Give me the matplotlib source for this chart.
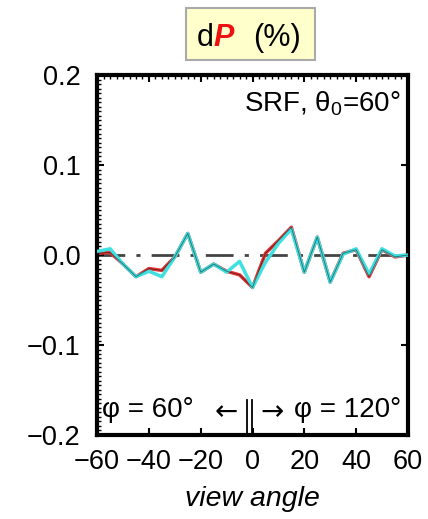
import numpy as np
import matplotlib.pyplot as plt
from matplotlib.patches import Rectangle
from matplotlib.ticker import MultipleLocator

plt.rcParams['font.family'] = ['Liberation Sans', 'DejaVu Sans']

# view angle grid and dP values
sudut = [-60, -55, -50, -45, -40, -35, -30, -25, -20, -15, -10, -5, 0,
         5, 10, 15, 20, 25, 30, 35, 40, 45, 50, 55, 60]
dp_merah = [0.002, 0.003, -0.010, -0.024, -0.015, -0.017, -0.002, 0.024, -0.019, -0.010, -0.018, -0.022, -0.036,
            0.002, 0.016, 0.031, -0.019, 0.020, -0.030, 0.002, 0.006, -0.024, 0.006, -0.002, 0.000]
dp_cyan = [0.004, 0.007, -0.010, -0.024, -0.018, -0.024, -0.002, 0.024, -0.019, -0.010, -0.019, -0.007, -0.036,
           -0.008, 0.013, 0.029, -0.019, 0.020, -0.030, 0.001, 0.007, -0.021, 0.007, -0.001, 0.000]
dp_hitam = dp_merah

fig = plt.figure(figsize=(4.28, 5.19), dpi=100)
ax = fig.add_axes([0.227, 0.162, 0.726, 0.693])

ax.axhline(0, color='#444444', lw=2, linestyle=(0, (10, 4, 1.5, 4)), zorder=1)
ax.plot(sudut, dp_merah, color='#e03535', lw=2.5, zorder=2)
ax.plot(sudut, dp_cyan, color='#40e0e0', lw=2.5, zorder=3)
ax.plot(sudut, dp_hitam, color='black', lw=0.7, alpha=0.45, zorder=4)

ax.set_xlim(-60, 60)
ax.set_ylim(-0.2, 0.2)
ax.set_xticks([-60, -40, -20, 0, 20, 40, 60])
ax.set_xticklabels(['\u221260', '\u221240', '\u221220', '0', '20', '40', '60'])
ax.set_yticks([-0.2, -0.1, 0.0, 0.1, 0.2])
ax.set_yticklabels(['\u22120.2', '\u22120.1', '0.0', '0.1', '0.2'])
ax.xaxis.set_minor_locator(MultipleLocator(2.5))
ax.yaxis.set_minor_locator(MultipleLocator(0.005))
ax.tick_params(which='major', direction='in', length=5, width=1.5,
               top=True, right=True, labelsize=19.5)
ax.tick_params(axis='x', which='major', pad=10)
ax.tick_params(axis='y', which='major', pad=12)
ax.tick_params(which='minor', direction='in', length=3, width=1,
               top=True, right=False, bottom=False)
for s in ax.spines.values():
    s.set_linewidth(3)

ax.set_xlabel('view angle', fontsize=20.5, style='italic', labelpad=8)

ax.text(0.977, 0.92, r'SRF, $\mathregular{\theta_0}$=60°', transform=ax.transAxes,
        ha='right', va='center', fontsize=20)
ax.text(0.016, 0.07, 'φ = 60°', transform=ax.transAxes, ha='left', va='center', fontsize=20)
ax.text(0.977, 0.07, 'φ = 120°', transform=ax.transAxes, ha='right', va='center', fontsize=20)
ax.text(-10, -0.175, '←', ha='center', va='center', fontsize=20, family='DejaVu Sans')
ax.text(7.5, -0.175, '→', ha='center', va='center', fontsize=20, family='DejaVu Sans')
ax.axvline(-2.2, ymin=0.0, ymax=0.097, color='black', lw=1.3)
ax.axvline(-0.2, ymin=0.0, ymax=0.097, color='black', lw=1.3)

# kotak judul
fig.patches.append(Rectangle((0.435, 0.884), 0.301, 0.100, transform=fig.transFigure,
                             facecolor='#ffffcc', edgecolor='#aaaaaa', lw=1.5))
fig.text(0.460, 0.911, 'd', fontsize=22, va='baseline')
fig.text(0.498, 0.911, 'P', fontsize=22, va='baseline', color='#ee1111',
         fontweight='bold', style='italic')
fig.text(0.591, 0.911, '(%)', fontsize=22, va='baseline')

fig.savefig('out.png', dpi=100)
